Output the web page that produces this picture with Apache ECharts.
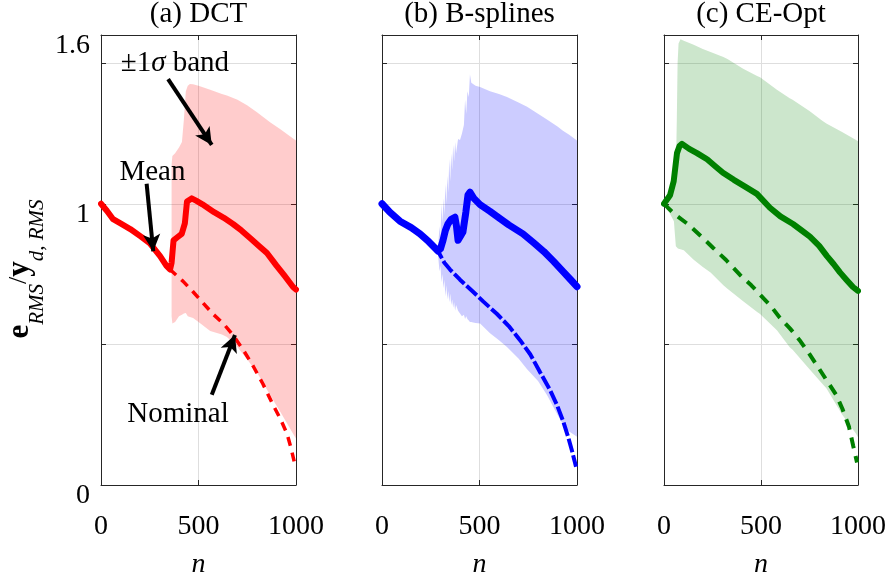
<!DOCTYPE html>
<html><head><meta charset="utf-8">
<script src="https://cdn.jsdelivr.net/npm/echarts@6/dist/echarts.min.js"></script>
<style>html,body{margin:0;padding:0;background:#fff}#c{width:891px;height:584px}</style>
</head><body><div id="c"></div>
<script>
// ---------- data ----------
const panelTitles = ['(a) DCT', '(b) B-splines', '(c) CE-Opt'];
const xTickValues = [0, 500, 1000];
const yTickLabelValues = [0, 1, 1.6];

// (a) DCT
const dctMeanN = [0,30,62,100,150,205,251,303,335,354,362,372,390,414,430,441,465,490,520,580,630,677,720,770,810,851,900,940,985,1000];
const dctMean  = [1.0,0.975,0.945,0.93,0.91,0.883,0.859,0.814,0.78,0.766,0.79,0.87,0.88,0.893,0.93,1.008,1.019,1.01,0.998,0.97,0.95,0.928,0.905,0.875,0.85,0.825,0.78,0.745,0.704,0.695];
const dctNomN  = [0,30,62,100,150,205,251,303,335,354,364,420,472,520,574,630,677,730,780,830,882,920,954,975,992];
const dctNom   = [1.0,0.975,0.945,0.93,0.91,0.883,0.859,0.814,0.78,0.766,0.763,0.725,0.687,0.65,0.608,0.572,0.533,0.48,0.423,0.36,0.285,0.235,0.182,0.13,0.08];
const dctBandN     = [362,366,380,400,415,425,435,445,456,472,500,560,620,646,700,749,800,867,920,985,1000];
const dctBandUpper = [1.14,1.17,1.18,1.20,1.22,1.30,1.40,1.42,1.426,1.425,1.42,1.405,1.39,1.385,1.37,1.35,1.325,1.29,1.265,1.232,1.225];
const dctBandLower = [0.60,0.574,0.58,0.60,0.605,0.61,0.612,0.60,0.597,0.594,0.58,0.548,0.535,0.526,0.49,0.447,0.40,0.32,0.26,0.182,0.165];

// (b) B-splines
const bsMeanN = [0,40,92,150,195,240,287,300,313,325,338,355,374,382,390,400,415,430,441,451,470,503,554,600,650,723,780,830,880,930,970,1000];
const bsMean  = [1.0,0.97,0.938,0.915,0.893,0.865,0.832,0.84,0.87,0.905,0.928,0.945,0.952,0.92,0.87,0.87,0.90,0.97,1.031,1.041,1.02,0.997,0.973,0.95,0.925,0.893,0.86,0.83,0.795,0.758,0.728,0.705];
const bsNomN  = [0,40,92,150,195,240,287,320,349,400,467,520,590,650,708,760,810,860,897,930,954,975,995];
const bsNom   = [1.0,0.97,0.938,0.915,0.893,0.865,0.832,0.79,0.766,0.73,0.687,0.652,0.608,0.565,0.515,0.465,0.402,0.34,0.285,0.225,0.172,0.12,0.065];
const bsBandN     = [287,295,300,305,310,315,320,325,330,335,340,345,350,355,360,365,370,375,380,390,400,410,420,426,432,438,445,451,458,467,480,503,554,600,641,700,744,800,846,900,928,960,1000];
const bsBandUpper = [0.84,0.92,0.88,1.00,0.93,1.02,0.96,1.07,1.0,1.10,1.04,1.16,1.08,1.18,1.12,1.21,1.15,1.22,1.18,1.23,1.227,1.25,1.28,1.37,1.32,1.40,1.38,1.46,1.43,1.426,1.42,1.415,1.40,1.39,1.38,1.36,1.345,1.32,1.30,1.275,1.26,1.245,1.225];
const bsBandLower = [0.82,0.76,0.78,0.72,0.75,0.70,0.73,0.67,0.71,0.66,0.69,0.65,0.68,0.64,0.66,0.63,0.65,0.62,0.64,0.62,0.61,0.60,0.605,0.59,0.60,0.59,0.585,0.58,0.58,0.578,0.576,0.574,0.54,0.515,0.491,0.45,0.412,0.37,0.32,0.25,0.216,0.19,0.172];

// (c) CE-Opt
const ceMeanN = [0,10,31,50,67,80,93,130,170,222,270,304,360,420,479,546,600,665,710,752,800,840,875,907,940,974,1000];
const ceMean  = [1.0,1.0,1.03,1.08,1.18,1.205,1.213,1.195,1.18,1.158,1.13,1.11,1.085,1.06,1.035,0.986,0.955,0.928,0.905,0.883,0.85,0.814,0.785,0.756,0.73,0.704,0.69];
const ceNomN  = [0,20,60,122,190,255,320,393,450,495,550,597,650,699,750,801,850,888,920,954,975,995];
const ceNom   = [1.0,0.986,0.96,0.928,0.885,0.842,0.80,0.746,0.71,0.677,0.637,0.595,0.556,0.515,0.465,0.412,0.36,0.32,0.27,0.206,0.14,0.08];
const ceBandN     = [0,10,30,51,61,66,70,75,85,102,153,200,240,306,327,408,480,495,582,648,663,750,816,837,918,990,1000];
const ceBandUpper = [1.0,1.0,1.02,1.06,1.10,1.30,1.50,1.57,1.585,1.58,1.565,1.55,1.54,1.522,1.515,1.48,1.454,1.45,1.405,1.375,1.37,1.33,1.295,1.285,1.255,1.227,1.222];
const ceBandLower = [1.0,0.986,0.965,0.938,0.849,0.845,0.842,0.84,0.838,0.835,0.801,0.775,0.756,0.71,0.698,0.653,0.615,0.608,0.55,0.49,0.481,0.412,0.36,0.344,0.251,0.182,0.17];

// annotation anchors (data coordinates of panel a)
const noteBandText = [379, 1.50];
const noteMeanText = [264, 1.113];
const noteNomText  = [395, 0.25];
const arrowBand = [[344, 1.443], [568, 1.209]];
const arrowMean = [[234, 1.071], [268, 0.831]];
const arrowNom  = [[568, 0.321], [687, 0.533]];

// ---------- chart ----------
const FONT = '"Liberation Serif","Times New Roman",serif';
const AX = '#262626';
const pair = (xs, ys) => xs.map((x, i) => [x, ys[i]]);

const panels = [
  {meanN: dctMeanN, mean: dctMean, nomN: dctNomN, nom: dctNom, bandN: dctBandN, up: dctBandUpper, lo: dctBandLower,
   color: '#ff0000', fill: 'rgba(255,0,0,0.2)', meanW: 6, nomW: 3.5, dash: [9, 7]},
  {meanN: bsMeanN, mean: bsMean, nomN: bsNomN, nom: bsNom, bandN: bsBandN, up: bsBandUpper, lo: bsBandLower,
   color: '#0000ff', fill: 'rgba(0,0,255,0.2)', meanW: 7, nomW: 4, dash: [14, 3]},
  {meanN: ceMeanN, mean: ceMean, nomN: ceNomN, nom: ceNom, bandN: ceBandN, up: ceBandUpper, lo: ceBandLower,
   color: '#008000', fill: 'rgba(0,128,0,0.2)', meanW: 6, nomW: 4, dash: [11, 8]}
];
const gridBoxes = [
  {left: 101, top: 35, width: 195, height: 465},
  {left: 382, top: 35, width: 195, height: 465},
  {left: 664, top: 35, width: 194, height: 465}
];

const xAxis = [], yAxis = [], series = [], title = [];
panels.forEach((p, i) => {
  const g = gridBoxes[i];
  title.push({text: panelTitles[i], left: g.left + g.width / 2, top: 0, padding: 0, textAlign: 'center',
    textStyle: {fontFamily: FONT, fontSize: 29, fontWeight: 'normal', color: '#000'}});
  xAxis.push({gridIndex: i, type: 'value', min: xTickValues[0], max: xTickValues[2], interval: xTickValues[1] - xTickValues[0],
    position: 'bottom',
    axisLine: {show: true, onZero: false, lineStyle: {color: AX, width: 1}},
    axisTick: {show: true, inside: true, length: 5, lineStyle: {color: AX}},
    axisLabel: {show: true, fontFamily: FONT, fontSize: 28, color: '#000', margin: 28, formatter: v => String(v)},
    splitLine: {show: true, lineStyle: {color: '#dedede', width: 1}},
    name: 'n', nameLocation: 'middle', nameGap: 66,
    nameTextStyle: {fontFamily: FONT, fontStyle: 'italic', fontSize: 28, color: '#000'}});
  xAxis.push({gridIndex: i, type: 'value', min: 0, max: 1000, interval: 500, position: 'top',
    axisLine: {show: true, onZero: false, lineStyle: {color: AX, width: 1}},
    axisTick: {show: true, inside: true, length: 5, lineStyle: {color: AX}},
    axisLabel: {show: false}, splitLine: {show: false}});
  yAxis.push({gridIndex: i, type: 'value', min: 0, max: 1.6, interval: 0.5, position: 'left',
    axisLine: {show: true, onZero: false, lineStyle: {color: AX, width: 1}},
    axisTick: {show: true, inside: true, length: 5, lineStyle: {color: AX}},
    axisLabel: {show: i === 0, margin: 11,
      formatter: v => yTickLabelValues.some(t => Math.abs(t - v) < 1e-9) ? '{v|' + String(+v.toFixed(1)) + '}' : '',
      rich: {v: {fontFamily: FONT, fontSize: 28, color: '#000', lineHeight: 28, padding: [22, 0, 0, 0]}}},
    splitLine: {show: true, lineStyle: {color: '#dedede', width: 1}}});
  yAxis.push({gridIndex: i, type: 'value', min: 0, max: 1.6, interval: 0.5, position: 'right',
    axisLine: {show: true, onZero: false, lineStyle: {color: AX, width: 1}},
    axisTick: {show: true, inside: true, length: 5, lineStyle: {color: AX}},
    axisLabel: {show: false}, splitLine: {show: false}});

  const xi = 2 * i, yi = 2 * i;
  series.push({
    type: 'custom', xAxisIndex: xi, yAxisIndex: yi, silent: true, z: 1, clip: true,
    data: p.bandN.map((n, k) => [n, p.lo[k], p.up[k]]),
    encode: {x: 0, y: [1, 2]},
    renderItem: (params, api) => {
      if (params.dataIndex !== 0) return null;
      const pts = [];
      for (let k = 0; k < p.bandN.length; k++) pts.push(api.coord([p.bandN[k], p.up[k]]));
      for (let k = p.bandN.length - 1; k >= 0; k--) pts.push(api.coord([p.bandN[k], p.lo[k]]));
      return {type: 'polygon', shape: {points: pts}, style: {fill: p.fill, stroke: null}};
    }
  });
  series.push({
    type: 'line', xAxisIndex: xi, yAxisIndex: yi, z: 3, silent: true, showSymbol: false, animation: false,
    data: pair(p.nomN, p.nom),
    lineStyle: {color: p.color, width: p.nomW, type: p.dash, cap: 'butt'}
  });
  const meanSeries = {
    type: 'line', xAxisIndex: xi, yAxisIndex: yi, z: 4, silent: true, showSymbol: false, animation: false,
    data: pair(p.meanN, p.mean),
    lineStyle: {color: p.color, width: p.meanW, cap: 'round', join: 'round'}
  };
  if (i === 0) {
    meanSeries.markLine = {
      silent: true, animation: false, symbol: ['none', 'arrow'], symbolSize: 16, precision: 3,
      itemStyle: {color: '#000'},
      lineStyle: {color: '#000', width: 4, type: 'solid', opacity: 1}, label: {show: false},
      emphasis: {disabled: true},
      data: [arrowBand, arrowMean, arrowNom].map(a => [
        {coord: a[0], symbol: 'none'},
        {coord: a[1], symbol: 'arrow', symbolSize: [13, 17], itemStyle: {color: '#000'}}
      ])
    };
    const rich = {a: {fontFamily: FONT, fontSize: 29, color: '#000'}, i: {fontFamily: FONT, fontSize: 29, fontStyle: 'italic', color: '#000'}};
    const mk = (c, f) => ({coord: c, symbol: 'rect', symbolSize: 1, itemStyle: {color: 'rgba(0,0,0,0)'},
      label: {show: true, position: 'inside', formatter: f, rich: rich}});
    meanSeries.markPoint = {
      silent: true, animation: false,
      data: [mk(noteBandText, '{a|±1}{i|σ}{a| band}'), mk(noteMeanText, '{a|Mean}'), mk(noteNomText, '{a|Nominal}')]
    };
  }
  series.push(meanSeries);
});

const chart = echarts.init(document.getElementById('c'), null, {renderer: 'canvas'});
chart.setOption({
  animation: false,
  backgroundColor: '#fff',
  title: title,
  grid: gridBoxes.map(g => Object.assign({containLabel: false}, g)),
  xAxis: xAxis,
  yAxis: yAxis,
  series: series,
  graphic: [{
    type: 'text', x: 26, y: 269, rotation: Math.PI / 2,
    style: {
      text: '{b|e}{s|RMS}{n|/}{b|y}{s|d, RMS}',
      align: 'center', verticalAlign: 'middle',
      rich: {
        b: {fontFamily: FONT, fontSize: 31, fontWeight: 'bold', color: '#000', lineHeight: 44, verticalAlign: 'top'},
        n: {fontFamily: FONT, fontSize: 26, color: '#000', lineHeight: 44, verticalAlign: 'top', padding: [2, 0, 0, 0]},
        s: {fontFamily: FONT, fontSize: 21, fontStyle: 'italic', color: '#000', lineHeight: 44, verticalAlign: 'bottom'}
      }
    }
  }]
});
</script>
</body></html>
